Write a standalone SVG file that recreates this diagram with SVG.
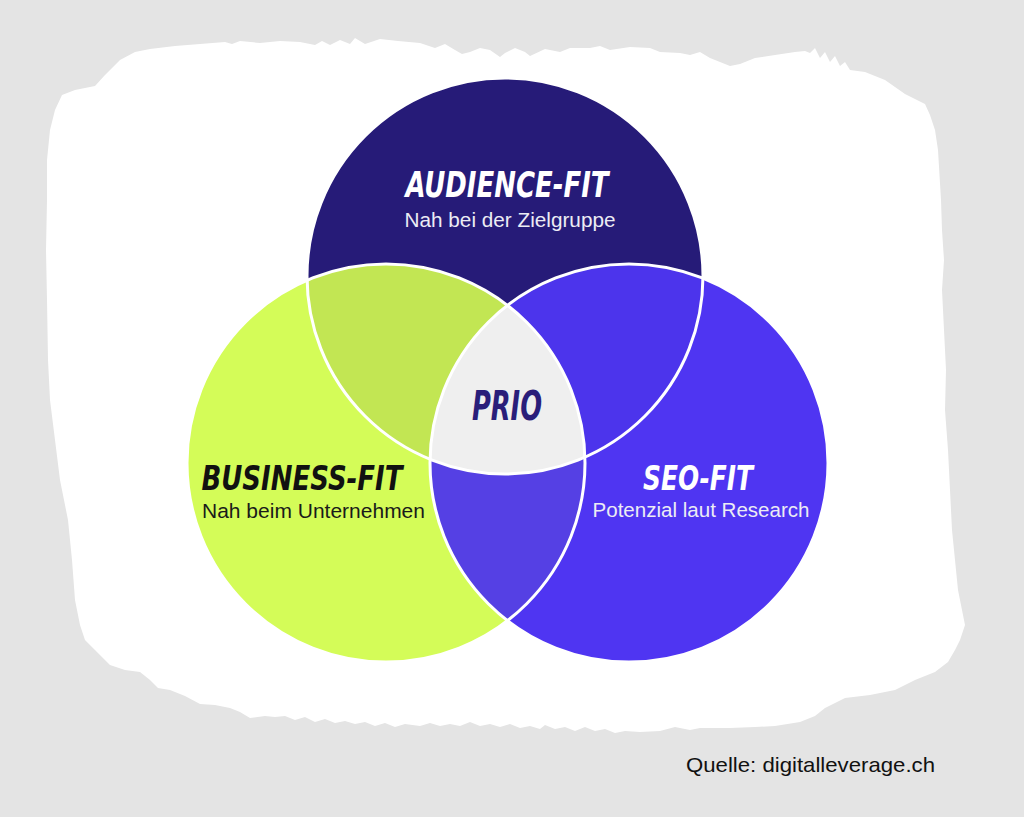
<svg xmlns="http://www.w3.org/2000/svg" width="1024" height="817" viewBox="0 0 1024 817">
<style>
.brush{font-family:"DejaVu Sans Condensed","DejaVu Sans","Liberation Sans",sans-serif;font-weight:bold;font-style:italic;text-anchor:middle}
.sub{font-family:"Liberation Sans","Noto Sans",sans-serif;font-size:20.5px}
.outline{fill:none;stroke:#ffffff;stroke-width:3}
</style>
<defs>
<clipPath id="clipA"><circle cx="505" cy="276" r="198"/></clipPath>
<clipPath id="clipB"><circle cx="386" cy="463" r="199"/></clipPath>
<clipPath id="clipS"><circle cx="629" cy="463" r="199"/></clipPath>
</defs>
<rect width="1024" height="817" fill="#e4e4e4"/>
<path id="paper" fill="#ffffff" d="M62,95 L75,90 L95,86 L105,75 L120,60 L135,52 L150,49 L175,46 L200,44 L225,42 L232,44 L240,41 L260,43 L280,41 L300,42 L315,45 L322,41 L330,45 L340,40 L350,44 L355,38 L365,44 L380,39 L398,41 L420,43 L435,48 L445,44 L455,50 L462,54 L470,52 L480,48 L490,50 L500,57 L505,53 L515,48 L525,52 L530,56 L545,49 L560,52 L570,48 L590,48 L600,46 L610,50 L630,47 L650,48 L660,52 L680,53 L690,55 L700,52 L710,58 L720,62 L730,66 L740,64 L755,58 L775,55 L795,52 L805,51 L810,53 L815,48 L820,58 L825,52 L830,62 L835,56 L840,66 L845,62 L850,70 L865,72 L885,80 L905,94 L925,104 L930,115 L935,130 L938,150 L941,200 L942,230 L944,260 L942,290 L944,330 L946,370 L945,410 L948,450 L950,490 L952,530 L955,560 L958,590 L962,610 L965,625 L960,640 L955,650 L948,662 L935,672 L915,680 L895,690 L870,695 L845,698 L825,708 L815,716 L800,722 L775,726 L755,727 L730,728 L700,728 L690,730 L675,727 L660,731 L640,732 L625,731 L615,733 L605,729 L595,731 L585,727 L575,731 L565,727 L555,729 L545,725 L540,729 L530,726 L520,728 L510,724 L500,727 L490,724 L480,726 L470,722 L460,726 L450,724 L440,726 L430,723 L420,726 L405,724 L395,727 L385,723 L375,726 L365,722 L355,724 L345,721 L335,723 L325,719 L315,722 L305,717 L295,720 L285,716 L275,717 L265,716 L250,718 L240,712 L230,708 L215,705 L200,704 L185,696 L170,690 L158,688 L150,680 L140,672 L125,670 L110,665 L95,650 L85,640 L80,625 L75,600 L72,560 L68,520 L60,480 L55,440 L50,400 L48,360 L47,300 L46,250 L47,200 L47,160 L50,130 L55,110 Z"/>
<g id="business">
<circle cx="386" cy="463" r="199" fill="#d4fc58"/>
</g>
<g id="seo">
<circle cx="629" cy="463" r="199" fill="#4f35f2"/>
</g>
<g id="audience">
<circle cx="505" cy="276" r="198" fill="#261b78"/>
</g>
<g id="overlaps">
<circle cx="505" cy="276" r="198" fill="#c2e653" clip-path="url(#clipB)"/>
<circle cx="505" cy="276" r="198" fill="#4c34ec" clip-path="url(#clipS)"/>
<circle cx="386" cy="463" r="199" fill="#5540e4" clip-path="url(#clipS)"/>
<g clip-path="url(#clipS)"><circle cx="505" cy="276" r="198" fill="#efefef" clip-path="url(#clipB)"/></g>
</g>
<g id="outlines">
<circle class="outline" cx="386" cy="463" r="199"/>
<circle class="outline" cx="629" cy="463" r="199"/>
<circle class="outline" cx="505" cy="276" r="198"/>
</g>
<g id="audience-label">
<text class="brush" x="507" y="197" font-size="36" fill="#ffffff" textLength="203" lengthAdjust="spacingAndGlyphs">AUDIENCE-FIT</text>
<text class="sub" x="510" y="227" fill="#ececf4" text-anchor="middle" textLength="211" lengthAdjust="spacingAndGlyphs">Nah bei der Zielgruppe</text>
</g>
<g id="business-label">
<text class="brush" x="302" y="490" font-size="34" fill="#111111" textLength="201" lengthAdjust="spacingAndGlyphs">BUSINESS-FIT</text>
<text class="sub" x="202" y="518" fill="#1a1a1a" textLength="223" lengthAdjust="spacingAndGlyphs">Nah beim Unternehmen</text>
</g>
<g id="seo-label">
<text class="brush" x="698" y="490" font-size="34" fill="#ffffff" textLength="110" lengthAdjust="spacingAndGlyphs">SEO-FIT</text>
<text class="sub" x="701" y="517" fill="#ececf4" text-anchor="middle" textLength="217" lengthAdjust="spacingAndGlyphs">Potenzial laut Research</text>
</g>
<g id="prio">
<text class="brush" x="507" y="420" font-size="40" fill="#2a1e7a" textLength="70" lengthAdjust="spacingAndGlyphs">PRIO</text>
</g>
<g id="source">
<text x="686" y="772" font-family="Liberation Sans, sans-serif" font-size="21" fill="#111111" textLength="249" lengthAdjust="spacingAndGlyphs">Quelle: digitalleverage.ch</text>
</g>
</svg>
